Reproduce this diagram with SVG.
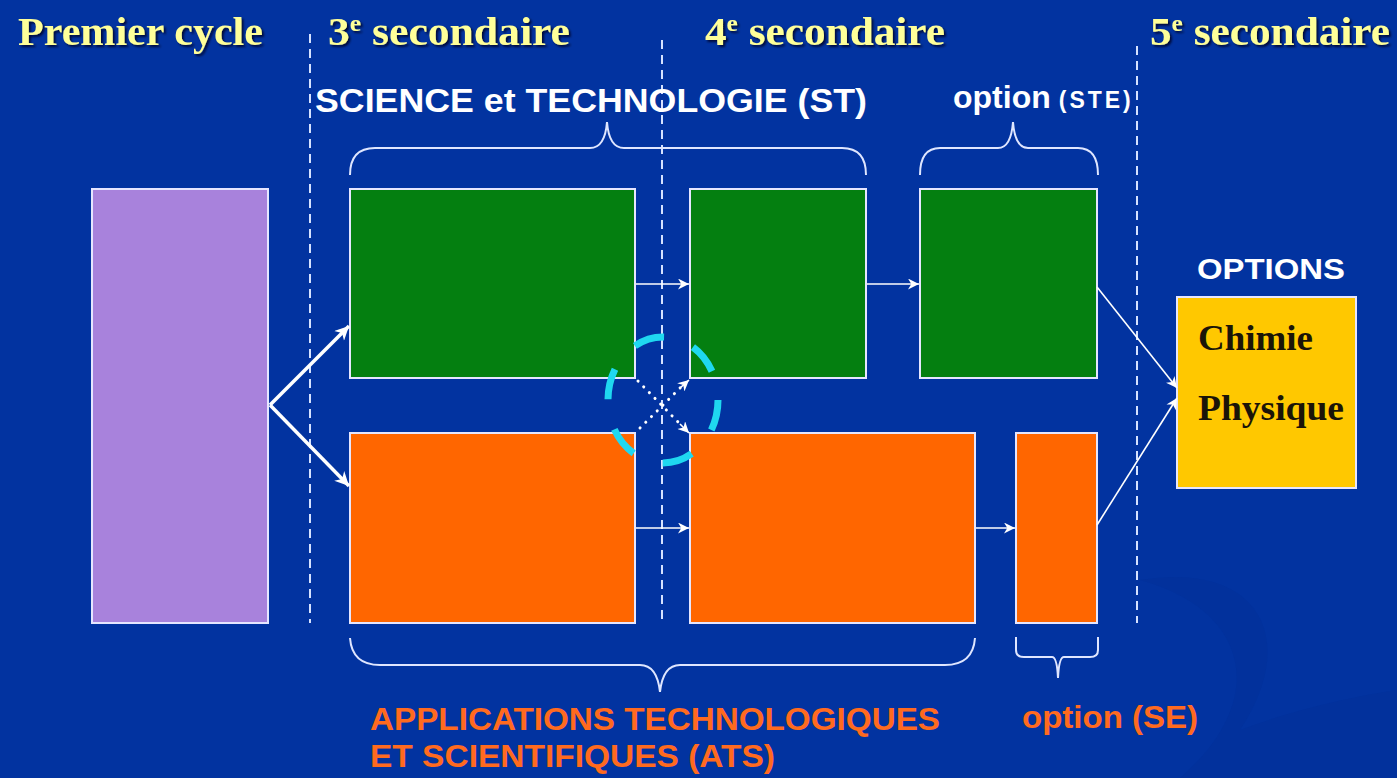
<svg xmlns="http://www.w3.org/2000/svg" width="1397" height="778" viewBox="0 0 1397 778">
<defs>
<style>
.title{font-family:"Liberation Serif","Times New Roman",serif;font-weight:bold;font-size:41px;fill:#ffff99;filter:url(#shadow)}
.sup{font-size:24px}
.hdr{font-family:"Liberation Sans",Arial,sans-serif;font-weight:bold;fill:#ffffff}
.ats{font-family:"Liberation Sans",Arial,sans-serif;font-weight:bold;fill:#ff6a1f;font-size:32px}
.opt{font-family:"Liberation Serif","Times New Roman",serif;font-weight:bold;font-size:36px;fill:#1a1408}
.box{stroke:#e6e6ff;stroke-width:2}
.green{fill:#047f10}
.orange{fill:#ff6600}
.divider{stroke:#d6e2ff;stroke-width:2;stroke-dasharray:9 6;fill:none}
.brace{fill:none;stroke:#dfe6ff;stroke-width:2}
.thin{stroke:#ffffff;stroke-width:1.6;fill:none}
.thick{stroke:#ffffff;stroke-width:3.5;fill:none}
.dot{stroke:#ffffff;stroke-width:3;stroke-linecap:round;stroke-dasharray:0.1 8;fill:none}
</style>
<filter id="shadow" x="-5%" y="-20%" width="110%" height="150%">
<feDropShadow dx="2" dy="2" stdDeviation="1" flood-color="#000022" flood-opacity="0.8"/>
</filter>
<marker id="ah" viewBox="0 0 10 10" refX="10" refY="5" markerWidth="13" markerHeight="11" markerUnits="userSpaceOnUse" orient="auto">
<path d="M0,0 L10,5 L0,10 L3,5 Z" fill="#ffffff"/>
</marker>
<marker id="ahb" viewBox="0 0 10 10" refX="10" refY="5" markerWidth="17" markerHeight="14" markerUnits="userSpaceOnUse" orient="auto">
<path d="M0,0 L10,5 L0,10 L3,5 Z" fill="#ffffff"/>
</marker>
</defs>
<rect width="1397" height="778" fill="#0233a0"/>
<path d="M1140,580 C1260,560 1300,640 1240,730 C1320,700 1397,690 1397,690 L1397,778 L1180,778 C1270,700 1250,610 1140,580 Z" fill="#042f96" opacity="0.35"/>

<g id="dividers">
<line class="divider" x1="310" y1="34" x2="310" y2="623"/>
<line class="divider" x1="662" y1="40" x2="662" y2="623"/>
<line class="divider" x1="1137" y1="46" x2="1137" y2="623"/>
</g>

<g id="titles">
<text class="title" x="18" y="45" textLength="245" lengthAdjust="spacingAndGlyphs">Premier cycle</text>
<text class="title" x="328" y="45" textLength="242" lengthAdjust="spacingAndGlyphs">3<tspan class="sup" dy="-14">e</tspan><tspan dy="14"> secondaire</tspan></text>
<text class="title" x="705" y="45" textLength="240" lengthAdjust="spacingAndGlyphs">4<tspan class="sup" dy="-14">e</tspan><tspan dy="14"> secondaire</tspan></text>
<text class="title" x="1150" y="45" textLength="240" lengthAdjust="spacingAndGlyphs">5<tspan class="sup" dy="-14">e</tspan><tspan dy="14"> secondaire</tspan></text>
</g>

<g id="label-st">
<text class="hdr" x="315" y="112" font-size="34" textLength="552" lengthAdjust="spacingAndGlyphs">SCIENCE et TECHNOLOGIE (ST)</text>
<path class="brace" d="M350,175 Q350,148 375,148 L590,148 Q605,148 607,122 Q609,148 624,148 L842,148 Q866,148 866,175"/>
</g>
<g id="label-ste">
<text class="hdr" x="953" y="108" font-size="32">option<tspan font-size="23" dx="8" letter-spacing="3">(STE)</tspan></text>
<path class="brace" d="M920,175 Q920,148 940,148 L998,148 Q1011,148 1013,122 Q1015,148 1028,148 L1078,148 Q1098,148 1098,175"/>
</g>

<g id="premier-cycle">
<rect class="box" x="92" y="189" width="176" height="434" fill="#a882dc"/>
</g>
<g id="st3">
<rect class="box green" x="350" y="189" width="285" height="189"/>
</g>
<g id="st4">
<rect class="box green" x="690" y="189" width="176" height="189"/>
</g>
<g id="ste">
<rect class="box green" x="920" y="189" width="177" height="189"/>
</g>
<g id="ats3">
<rect class="box orange" x="350" y="433" width="285" height="190"/>
</g>
<g id="ats4">
<rect class="box orange" x="690" y="433" width="285" height="190"/>
</g>
<g id="se">
<rect class="box orange" x="1016" y="433" width="81" height="190"/>
</g>
<g id="options">
<text class="hdr" x="1197" y="279" font-size="29" textLength="148" lengthAdjust="spacingAndGlyphs">OPTIONS</text>
<rect class="box" x="1177" y="297" width="179" height="191" fill="#ffc800"/>
<text class="opt" x="1198" y="350" textLength="115" lengthAdjust="spacingAndGlyphs">Chimie</text>
<text class="opt" x="1198" y="420" textLength="146" lengthAdjust="spacingAndGlyphs">Physique</text>
</g>

<g id="label-ats">
<path class="brace" d="M350,638 Q352,665 380,665 L640,665 Q657,665 660,692 Q663,665 680,665 L945,665 Q973,665 975,638"/>
<text class="ats" x="370" y="730" textLength="570" lengthAdjust="spacingAndGlyphs">APPLICATIONS TECHNOLOGIQUES</text>
<text class="ats" x="370" y="767" textLength="405" lengthAdjust="spacingAndGlyphs">ET SCIENTIFIQUES (ATS)</text>
</g>
<g id="label-se">
<path class="brace" d="M1016,637 L1016,650 Q1016,657 1024,657 L1052,657 Q1057,657 1058,678 Q1059,657 1064,657 L1090,657 Q1098,657 1098,650 L1098,637"/>
<text class="ats" x="1022" y="728" textLength="176" lengthAdjust="spacingAndGlyphs">option (SE)</text>
</g>

<g id="connectors">
<line class="thick" x1="270" y1="405" x2="349" y2="326" marker-end="url(#ahb)"/>
<line class="thick" x1="270" y1="405" x2="349" y2="486" marker-end="url(#ahb)"/>
<line class="thin" x1="636" y1="284" x2="689" y2="284" marker-end="url(#ah)"/>
<line class="thin" x1="867" y1="284" x2="919" y2="284" marker-end="url(#ah)"/>
<line class="thin" x1="636" y1="528" x2="689" y2="528" marker-end="url(#ah)"/>
<line class="thin" x1="976" y1="528" x2="1015" y2="528" marker-end="url(#ah)"/>
<line class="thin" x1="1097" y1="287" x2="1177" y2="388" marker-end="url(#ah)"/>
<line class="thin" x1="1097" y1="525" x2="1177" y2="398" marker-end="url(#ah)"/>
<line class="dot" x1="638" y1="381" x2="682" y2="426"/>
<line class="thin" x1="680" y1="424" x2="689" y2="433" marker-end="url(#ah)"/>
<line class="dot" x1="640" y1="428" x2="682" y2="386"/>
<line class="thin" x1="680" y1="388" x2="689" y2="380" marker-end="url(#ah)"/>
<ellipse cx="663" cy="400" rx="55" ry="63" fill="none" stroke="#1fd8f0" stroke-width="7" stroke-dasharray="31 31" stroke-dashoffset="0"/>
</g>
</svg>
